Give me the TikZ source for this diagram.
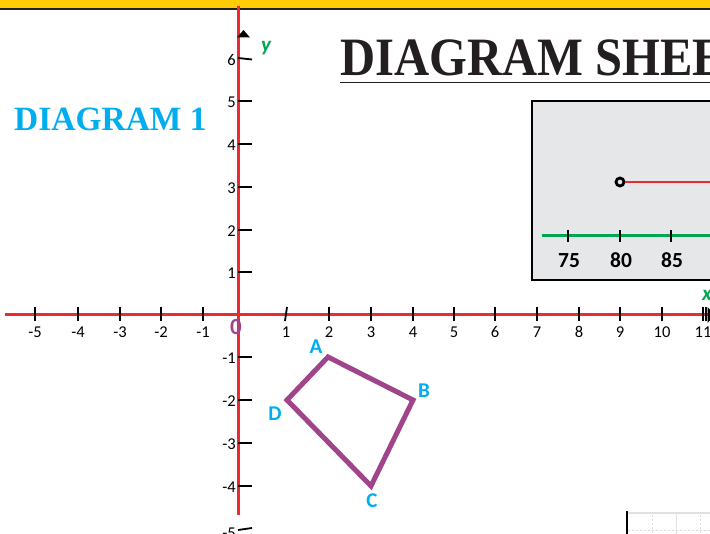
\documentclass[tikz,border=0pt]{standalone}
\usepackage{fontspec}
\setmainfont{Liberation Serif}
\newfontfamily\calfont{Carlito}
\definecolor{barY}{HTML}{FFCB05}
\definecolor{axR}{HTML}{EE2A2F}
\definecolor{grnC}{HTML}{00A651}
\definecolor{bluC}{HTML}{00AEEF}
\definecolor{purC}{HTML}{A0458B}
\definecolor{boxG}{HTML}{E6E7E8}
\definecolor{darkC}{HTML}{231F20}
\tikzset{
  axisline/.style={axR, line width=3pt},
  tickx/.style={black, line width=1.8pt},
  ticklab/.style={font=\calfont\fontsize{16.5}{17}\selectfont, inner sep=0pt},
  vlab/.style={font=\calfont\bfseries\fontsize{21}{22}\selectfont, text=bluC, inner sep=0pt},
  numlab/.style={font=\calfont\bfseries\fontsize{21.5}{22}\selectfont, inner sep=0pt},
  shapeline/.style={purC, line width=5pt, line join=miter},
}
\begin{document}
\begin{tikzpicture}[x=1pt,y=-1pt]
\useasboundingbox (0,0) rectangle (710,534);
\fill[white] (0,0) rectangle (710,534);
% top bar
\fill[barY] (0,0) rectangle (710,8);
\draw[darkC, line width=2pt] (0,9) -- (710,9);
% titles
\node[anchor=base west, inner sep=0pt, font=\bfseries\fontsize{54}{56}\selectfont, text=darkC, xscale=0.9, transform shape] (title) at (340,76) {DIAGRAM SHEET};
\draw[darkC, line width=1.8pt] (340,82.5) -- (712,82.5);
\node[anchor=base west, inner sep=0pt, font=\bfseries\fontsize{34}{36}\selectfont, text=bluC, xscale=0.985, transform shape] (d1) at (14,131) {DIAGRAM 1};
% grey box
\draw[black, line width=2.2pt, fill=boxG] (532,101) rectangle (730,280);
\draw[grnC, line width=3pt] (542,236) -- (730,236);
\foreach \xx/\lab in {568/75,620/80,671/85,722/90}{
  \draw[black, line width=1.8pt] (\xx,230) -- (\xx,242);
  \node[numlab, anchor=base] (n\lab) at (\xx+1,268) {\lab};
}
\coordinate (rr) at (730,182);
\node[circle, draw=black, line width=2.8pt, fill=boxG, minimum size=8pt, inner sep=0pt] (pt) at (620,182) {};
\draw[axR, line width=2.6pt] (pt.east) -- (rr);
% axes
\draw[axisline] (5,315) -- (712,315);
\draw[axisline] (238,6) -- (238,515);
\fill[black] (237,37.5) -- (243.5,30) -- (250,37.5) -- cycle;
% x ticks
\foreach \xx/\lab in {35/-5,78/-4,120/-3,161/-2,203/-1,329/2,371/3,413/4,454/5,495/6,537/7,579/8,620/9,662/10,703/11}{
  \draw[tickx] (\xx,307) -- (\xx,321);
  \node[ticklab, anchor=base] at (\xx,337.5) {\lab};
}
\draw[tickx] (285,321) -- (287,307);
\node[ticklab, anchor=base] at (286,337.5) {1};
\draw[tickx] (706,307) -- (706,321);
\fill[black] (707.5,307) -- (715,315) -- (707.5,323) -- cycle;
% y ticks
\foreach \yy/\lab in {101/5,144/4,187/3,230/2,272/1,357/-1,400/-2,443/-3,486/-4}{
  \draw[tickx] (238,\yy) -- (252,\yy);
  \node[ticklab, anchor=east] at (236,\yy+1) {\lab};
}
\draw[tickx] (238,58) -- (252,59.5);
\node[ticklab, anchor=east] at (236,60) {6};
\draw[tickx] (238,530) -- (252,528);
\node[ticklab, anchor=east] at (236,533) {-5};
% axis labels
\node[font=\calfont\bfseries\itshape\fontsize{21}{22}\selectfont, text=grnC, inner sep=0pt] (ylab) at (266,48) {y};
\node[font=\calfont\bfseries\itshape\fontsize{21}{22}\selectfont, text=grnC, inner sep=0pt] (xlab) at (707,295) {x};
\node[font=\calfont\bfseries\fontsize{23}{24}\selectfont, text=purC, inner sep=0pt] (orig) at (236,327) {0};
% quadrilateral
\coordinate (A) at (328,357);
\coordinate (B) at (413,400);
\coordinate (C) at (371,486);
\coordinate (D) at (287,400);
\draw[shapeline] (A) -- (B) -- (C) -- (D) -- cycle;
\node[vlab] (lA) at (316,347) {A};
\node[vlab] (lB) at (424,391) {B};
\node[vlab] (lC) at (372,501) {C};
\node[vlab] (lD) at (275,414) {D};
% bottom right fragment
\draw[black!12, line width=1.5pt] (628,513) -- (712,513);
\draw[black!12, line width=1pt] (676,513) -- (676,534);
\draw[black!15, line width=1pt, dash pattern=on 2pt off 2pt] (628,531) -- (712,531);
\draw[black!15, line width=1pt, dash pattern=on 2pt off 2pt] (652,515) -- (652,534);
\draw[black!15, line width=1pt, dash pattern=on 2pt off 2pt] (700,515) -- (700,534);
\draw[black, line width=1.6pt] (627,511) -- (627,534);
\end{tikzpicture}
\end{document}
